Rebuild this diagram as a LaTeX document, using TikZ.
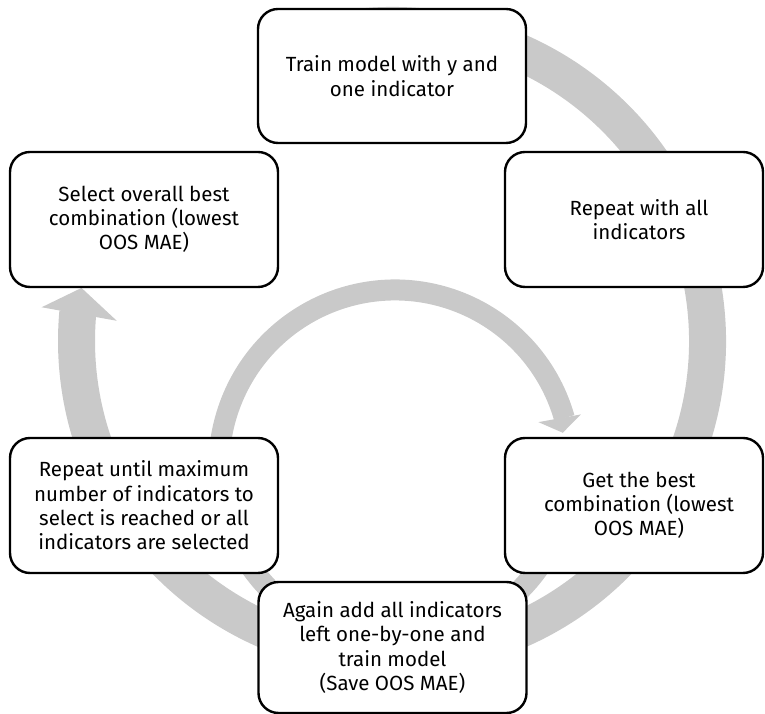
\documentclass[tikz,border=0pt]{standalone}
\usepackage{fontspec}
\setmainfont{Fira Sans}
\definecolor{ringgray}{RGB}{201,201,201}
\tikzset{%
  stepbox/.style   = {shape=rectangle, rounded corners=20pt,%
                      draw=black, line width=2.4pt, fill=white,%
                      align=center, inner sep=4pt,%
                      font=\fontsize{20.5}{24.3}\selectfont},%
  leftbox/.style   = {stepbox, minimum width=268pt, minimum height=135pt},%
  rightbox/.style  = {stepbox, minimum width=258pt, minimum height=135pt},%
  midbox/.style    = {stepbox, minimum width=268pt, minimum height=134pt},%
  bigring/.style   = {draw=ringgray, line width=37pt},%
  smallring/.style = {draw=ringgray, line width=21pt}%
}
\begin{document}
\begin{tikzpicture}[x=1pt,y=1pt]
  \useasboundingbox (0,0) rectangle (765,714);
  % the two grey cycle arrows, drawn first so the boxes cover them
  \coordinate (outerc) at (392,373);
  \coordinate (innerc) at (395,248);
  \begin{scope}[shift={(outerc)}]
    \draw[bigring] (100:315.5) arc[start angle=100, end angle=-185.3, radius=315.5pt];
    \fill[ringgray] (174.5:352) -- (175.8:276) -- (170.3:315) -- cycle;
  \end{scope}
  \begin{scope}[shift={(innerc)}]
    \draw[smallring] (-20:176) arc[start angle=-20, end angle=-344.2, radius=176pt];
    \fill[ringgray] (17:150) -- (15.5:193) -- (11.2:171) -- cycle;
  \end{scope}
  % the six steps
  \node[midbox]   (train)    at (392,638)   {Train model with y and\\one indicator};
  \node[rightbox] (repall)   at (634,494.5) {\hspace*{10pt}Repeat with all\\\hspace*{10pt}indicators};
  \node[rightbox] (getbest)  at (634,208.5) {\hspace*{10pt}Get the best\\\hspace*{10pt}combination (lowest\\\hspace*{10pt}OOS MAE)};
  \node[midbox, minimum height=131pt] (again) at (392.5,66.5)
    {Again add all indicators\\left one-by-one and\\train model\\(Save OOS MAE)};
  \node[leftbox]  (repuntil) at (144,208.5)
    {Repeat until maximum\\number of indicators to\\select is reached or all\\indicators are selected};
  \node[leftbox]  (select)   at (144,494.5) {Select overall best\\combination (lowest\\OOS MAE)};
\end{tikzpicture}
\end{document}
